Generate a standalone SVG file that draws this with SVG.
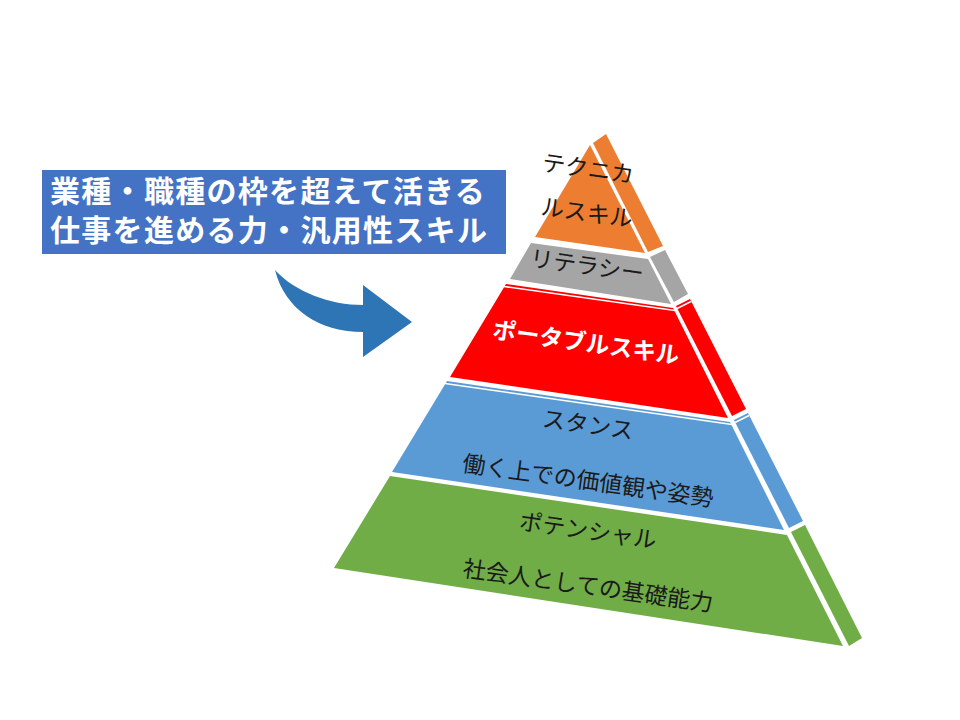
<svg xmlns="http://www.w3.org/2000/svg" width="960" height="720" viewBox="0 0 960 720">
<style>
.lbl{font-family:"Noto Sans CJK JP","Noto Sans",sans-serif;font-size:23px;fill:#1a1a1a;text-anchor:middle}
.wht{font-family:"Noto Sans CJK JP","Noto Sans",sans-serif;font-size:23.5px;font-weight:bold;fill:#ffffff;text-anchor:middle}
.box{font-family:"Noto Sans CJK JP","Noto Sans",sans-serif;font-size:30px;letter-spacing:1.3px;font-weight:bold;fill:#ffffff}
.sep{stroke:#ffffff;stroke-width:1.6;fill:none}
</style>
<rect width="960" height="720" fill="#ffffff"/>
<g id="title">
<rect x="42" y="170" width="464" height="84" fill="#4472C4"/>
<text class="box" x="50" y="202">業種・職種の枠を超えて活きる</text>
<text class="box" x="50" y="241">仕事を進める力・汎用性スキル</text>
</g>
<g id="connectors">
<path d="M275,270 C295,292 330,305 363,305 L363,285 L412,322 L363,357 L363,332 C320,332 285,310 275,270 Z" fill="#2E75B6"/>
</g>
<g id="technical">
<polygon points="590,145 645,253 535,237" fill="#ED7D31"/>
<polygon points="593,143 606,134 663,246 648,252" fill="#ED7D31"/>
<text class="lbl" x="588" y="177" transform="rotate(8 588 169)">テクニカ</text>
<text class="lbl" x="587" y="221" transform="rotate(8 587 213)">ルスキル</text>
</g>
<g id="literacy">
<polygon points="531,243 648,259 671,304 510,279" fill="#A5A5A5"/>
<polygon points="650,257 665,250 688,294 674,302" fill="#A5A5A5"/>
<text class="lbl" x="587" y="274" transform="rotate(8 587 266)">リテラシー</text>
</g>
<g id="portable">
<polygon points="506,284 673,308 728,418 450,377" fill="#FF0000"/>
<line class="sep" x1="504" y1="286.5" x2="675" y2="310.5"/>
<polygon points="676,306 690,299 746,409 732,416" fill="#FF0000"/>
<line class="sep" x1="677" y1="308.5" x2="691" y2="301.5"/>
<text class="wht" x="586" y="351" transform="rotate(8 586 343)">ポータブルスキル</text>
</g>
<g id="stance">
<polygon points="447,381 730,422 784,530 392,472" fill="#5B9BD5"/>
<line class="sep" x1="445" y1="383.5" x2="732" y2="424.5"/>
<polygon points="734,420 748,413 803,521 789,528" fill="#5B9BD5"/>
<line class="sep" x1="735" y1="422.5" x2="749" y2="415.5"/>
<text class="lbl" x="588" y="433" transform="rotate(8 588 425)">スタンス</text>
<text class="lbl" x="588" y="489" transform="rotate(8 588 481)">働く上での価値観や姿勢</text>
</g>
<g id="potential">
<polygon points="390,476 787,535 843,646 334,568" fill="#70AD47"/>
<polygon points="791,532 805,525 862,638 849,646" fill="#70AD47"/>
<text class="lbl" x="588" y="539" transform="rotate(8 588 531)">ポテンシャル</text>
<text class="lbl" x="588" y="594" transform="rotate(8 588 586)">社会人としての基礎能力</text>
</g>
</svg>
